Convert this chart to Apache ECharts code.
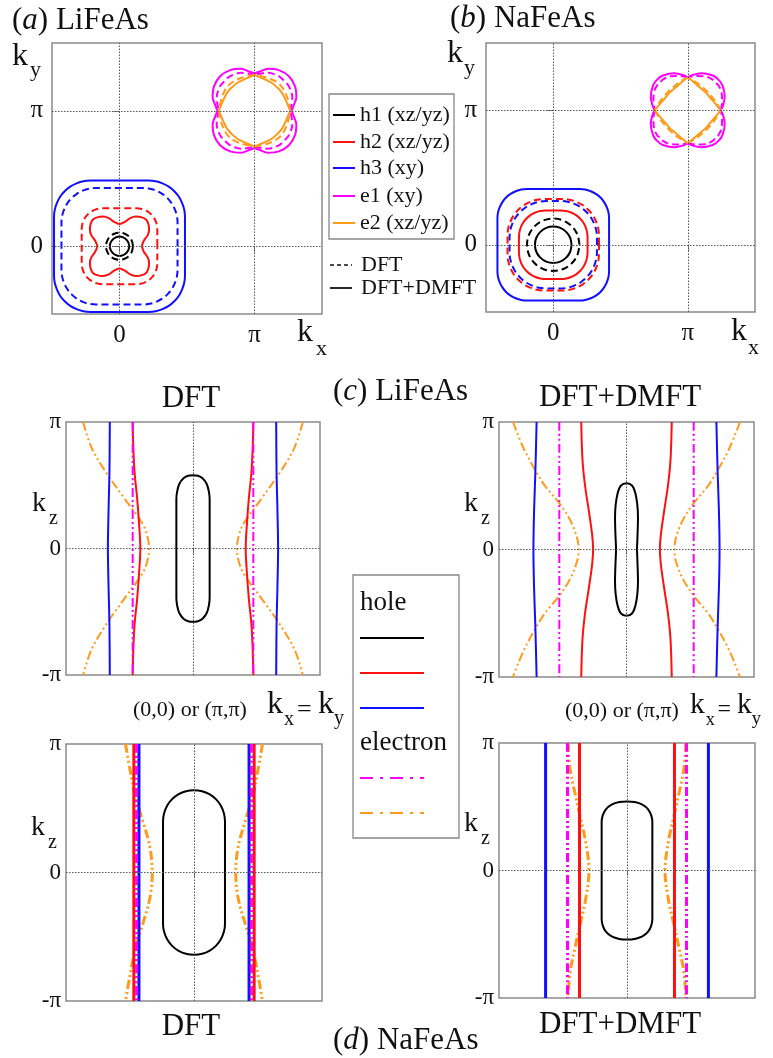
<!DOCTYPE html>
<html><head><meta charset="utf-8">
<script src="https://cdn.jsdelivr.net/npm/echarts@6/dist/echarts.min.js"></script>
<style>html,body{margin:0;padding:0;background:#fff}#c{width:773px;height:1058px}</style>
</head><body><div id="c"></div>
<script>
// ---------------- DATA ----------------
// Pocket centres (units of π)
const centreGamma = [0, 0];
const centreM = [1, 1];
// Panel (a) LiFeAs : first-quadrant contour points [Δkx, Δky] (units of π)
const aH1dft  = [[0.10,0],[0.092,0.038],[0.071,0.071],[0.038,0.092],[0,0.10]];
const aH1dmft = [[0.072,0],[0.066,0.027],[0.05,0.05],[0.027,0.066],[0,0.072]];
const aH2dft  = [[0.28,0],[0.28,0.07],[0.28,0.126],[0.277,0.156],[0.268,0.185],[0.254,0.212],[0.235,0.235],[0.212,0.254],[0.185,0.268],[0.156,0.277],[0.126,0.28],[0.07,0.28],[0,0.28]];
const aH2dmft = [[0.165,0],[0.18,0.04],[0.208,0.08],[0.219,0.12],[0.215,0.16],[0.197,0.197],[0.16,0.215],[0.12,0.219],[0.08,0.208],[0.04,0.18],[0,0.165]];
const aH3dft  = [[0.43,0],[0.43,0.09],[0.43,0.174],[0.425,0.224],[0.41,0.272],[0.387,0.316],[0.355,0.355],[0.316,0.387],[0.272,0.41],[0.224,0.425],[0.174,0.43],[0.09,0.43],[0,0.43]];
const aH3dmft = [[0.485,0],[0.485,0.11],[0.485,0.215],[0.48,0.268],[0.464,0.318],[0.44,0.365],[0.406,0.406],[0.365,0.44],[0.318,0.464],[0.268,0.48],[0.215,0.485],[0.11,0.485],[0,0.485]];
const aE1dft  = [[0.265,0],[0.275,0.05],[0.28,0.10],[0.255,0.18],[0.22,0.22],[0.18,0.255],[0.10,0.28],[0.05,0.275],[0,0.265]];
const aE1dmft = [[0.275,0],[0.29,0.04],[0.31,0.10],[0.30,0.18],[0.255,0.255],[0.18,0.30],[0.10,0.31],[0.04,0.29],[0,0.275]];
const aE2dft  = [[0.265,0],[0.245,0.09],[0.22,0.15],[0.19,0.19],[0.15,0.22],[0.09,0.245],[0,0.265]];
const aE2dmft = [[0.265,0],[0.23,0.08],[0.205,0.13],[0.17,0.17],[0.13,0.205],[0.08,0.23],[0,0.265]];
// Panel (b) NaFeAs
const bH1dft  = [[0.195,0],[0.18,0.075],[0.138,0.138],[0.075,0.18],[0,0.195]];
const bH1dmft = [[0.136,0],[0.126,0.052],[0.096,0.096],[0.052,0.126],[0,0.136]];
const bH2dft  = [[0.34,0],[0.34,0.067],[0.335,0.12],[0.319,0.171],[0.294,0.219],[0.26,0.26],[0.219,0.294],[0.171,0.319],[0.12,0.335],[0.067,0.34],[0,0.34]];
const bH2dmft = [[0.255,0],[0.255,0.057],[0.251,0.096],[0.24,0.133],[0.222,0.167],[0.197,0.197],[0.167,0.222],[0.133,0.24],[0.096,0.251],[0.057,0.255],[0,0.255]];
const bH3dft  = [[0.325,0],[0.325,0.052],[0.32,0.105],[0.304,0.157],[0.279,0.204],[0.245,0.245],[0.204,0.279],[0.157,0.304],[0.105,0.32],[0.052,0.325],[0,0.325]];
const bH3dmft = [[0.415,0],[0.415,0.1],[0.415,0.195],[0.411,0.238],[0.398,0.279],[0.378,0.317],[0.351,0.351],[0.317,0.378],[0.279,0.398],[0.238,0.411],[0.195,0.415],[0.1,0.415],[0,0.415]];
const bE1dft  = [[0.245,0],[0.255,0.06],[0.252,0.13],[0.225,0.19],[0.205,0.205],[0.19,0.225],[0.13,0.252],[0.06,0.255],[0,0.245]];
const bE1dmft = [[0.245,0],[0.262,0.035],[0.275,0.10],[0.258,0.185],[0.228,0.228],[0.185,0.258],[0.10,0.275],[0.035,0.262],[0,0.245]];
const bE2dft  = [[0.245,0],[0.21,0.06],[0.175,0.105],[0.142,0.142],[0.105,0.175],[0.06,0.21],[0,0.245]];
const bE2dmft = [[0.245,0],[0.205,0.05],[0.165,0.095],[0.133,0.133],[0.095,0.165],[0.05,0.205],[0,0.245]];
// Panels (c),(d): right-hand upper half [x along kx=ky (half-width = 1), kz/π] from kz=π down to 0
const cDftH1  = [[0.131,0],[0.131,0.39],[0.125,0.45],[0.108,0.51],[0.075,0.555],[0.038,0.575],[0,0.58]]; // closed, quadrant
const cDftH2  = [[0.475,1],[0.47,0.8],[0.46,0.6],[0.44,0.4],[0.425,0.2],[0.415,0]];
const cDftH3  = [[0.655,1],[0.658,0.6],[0.665,0.3],[0.67,0]];
const cDftE1  = [[0.475,1],[0.475,0.5],[0.475,0]];
const cDftE2  = [[0.865,1],[0.80,0.8],[0.684,0.6],[0.543,0.4],[0.40,0.2],[0.36,0.1],[0.346,0]];
const cDmftH1 = [[0.082,0],[0.086,0.1],[0.09,0.25],[0.085,0.35],[0.07,0.44],[0.045,0.5],[0,0.52]];
const cDmftH2 = [[0.355,1],[0.345,0.7],[0.325,0.5],[0.295,0.3],[0.27,0.12],[0.262,0]];
const cDmftH3 = [[0.705,1],[0.715,0.6],[0.725,0.3],[0.73,0]];
const cDmftE1 = [[0.527,1],[0.527,0.5],[0.527,0]];
const cDmftE2 = [[0.89,1],[0.81,0.8],[0.72,0.63],[0.64,0.5],[0.53,0.367],[0.445,0.236],[0.39,0.1],[0.375,0]];
const dDftH1  = [[0.242,0],[0.242,0.4],[0.234,0.46],[0.21,0.52],[0.171,0.571],[0.12,0.61],[0.063,0.633],[0,0.64]];
const dDftH2  = [[0.47,1],[0.47,0.5],[0.47,0]];
const dDftH3  = [[0.43,1],[0.43,0.5],[0.43,0]];
const dDftE1  = [[0.448,1],[0.448,0.5],[0.448,0]];
const dDftE2  = [[0.535,1],[0.50,0.8],[0.46,0.6],[0.40,0.4],[0.345,0.2],[0.326,0]];
const dDmftH1 = [[0.198,0],[0.198,0.38],[0.19,0.43],[0.165,0.48],[0.12,0.517],[0.06,0.537],[0,0.542]];
const dDmftH2 = [[0.371,1],[0.371,0.5],[0.371,0]];
const dDmftH3 = [[0.636,1],[0.636,0.5],[0.636,0]];
const dDmftE1 = [[0.465,1],[0.465,0.5],[0.465,0]];
const dDmftE2 = [[0.46,1],[0.445,0.8],[0.405,0.6],[0.37,0.44],[0.325,0.235],[0.297,0]];
// Labels
const bandNames = ['h1 (xz/yz)','h2 (xz/yz)','h3 (xy)','e1 (xy)','e2 (xz/yz)'];
const kTicksAB = {0:'0', 1:'π'};
const kzTicks = {'-1':'-π', '0':'0', '1':'π'};

// ---------------- STYLE ----------------
const SERIF = "'Liberation Serif','Times New Roman',serif";
const COL = {h1:'#000000', h2:'#ff1010', h3:'#1010ff', e1:'#ff00ff', e2:'#ff9a1a'};
const DASH = [7,4];
const DDOT = [9,3,2,3,2,3];
const grids = [
  {left:52,  top:43,  width:270, height:271},
  {left:486, top:43,  width:269, height:269},
  {left:66,  top:422, width:254, height:253},
  {left:499, top:422, width:255, height:255},
  {left:66,  top:744, width:256, height:257},
  {left:499, top:743, width:256, height:255}
];

// ---------------- helpers ----------------
function quads(Q){
  const q1 = Q.slice();
  const q2 = Q.slice().reverse().map(p=>[-p[0],p[1]]);
  const q3 = Q.map(p=>[-p[0],-p[1]]);
  const q4 = Q.slice().reverse().map(p=>[p[0],-p[1]]);
  return [q1,q2,q3,q4];
}
function closed(Q){
  const [q1,q2,q3,q4] = quads(Q);
  return q1.concat(q2.slice(1), q3.slice(1), q4.slice(1));
}
function shift(P,c){ return P.map(p=>[p[0]+c[0], p[1]+c[1]]); }
function halfToFull(H){ return H.concat(H.slice(0,-1).reverse().map(p=>[p[0],-p[1]])); }

const series = [];
function line(gi, pts, color, type, width){
  series.push({type:'line', xAxisIndex:gi, yAxisIndex:gi, data:pts, smooth:0.35, smoothMonotone:null, showSymbol:false, symbol:'none',
    silent:true, animation:false, z:3, lineStyle:{color:color, width:width, type:type, cap:'butt', join:'round'}});
}
function pocket(gi, Q, c, color, type, width, cusp){
  if (cusp) quads(Q).forEach(q=>line(gi, shift(q,c), color, type, width));
  else line(gi, shift(closed(Q),c), color, type, width);
}
function vert(gi, H, color, type, width){
  const R = halfToFull(H);
  line(gi, R, color, type, width);
  line(gi, R.map(p=>[-p[0],p[1]]), color, type, width);
}
function gridLines(gi, xs, ys){
  series.push({type:'line', xAxisIndex:gi, yAxisIndex:gi, data:[], silent:true, animation:false, z:1,
    markLine:{silent:true, symbol:['none','none'], animation:false, label:{show:false},
      lineStyle:{type:[1.5,1.5], color:'#555', width:1},
      data: xs.map(v=>({xAxis:v})).concat(ys.map(v=>({yAxis:v})))}});
}

// panel (a)
gridLines(0,[0,1],[0,1]);
[[aH3dft,aH3dmft,'h3'],[aH2dft,aH2dmft,'h2'],[aH1dft,aH1dmft,'h1']].forEach(([d,m,k])=>{
  pocket(0,d,centreGamma,COL[k],DASH,2,false); pocket(0,m,centreGamma,COL[k],'solid',2,false);
});
pocket(0,aE1dft,centreM,COL.e1,DASH,2,true); pocket(0,aE1dmft,centreM,COL.e1,'solid',2,true);
pocket(0,aE2dft,centreM,COL.e2,DASH,2,true); pocket(0,aE2dmft,centreM,COL.e2,'solid',2,true);
// panel (b)
gridLines(1,[0,1],[0,1]);
[[bH3dft,bH3dmft,'h3'],[bH2dft,bH2dmft,'h2'],[bH1dft,bH1dmft,'h1']].forEach(([d,m,k])=>{
  pocket(1,d,centreGamma,COL[k],DASH,2,false); pocket(1,m,centreGamma,COL[k],'solid',2,false);
});
pocket(1,bE1dft,centreM,COL.e1,DASH,2,true); pocket(1,bE1dmft,centreM,COL.e1,'solid',2,true);
pocket(1,bE2dft,centreM,COL.e2,DASH,2,true); pocket(1,bE2dmft,centreM,COL.e2,'solid',2,true);
// panels (c),(d)
function kzPanel(gi, H1, H2, H3, E1, E2, w){
  gridLines(gi,[0],[0]);
  vert(gi,E2,COL.e2,DDOT,w);
  vert(gi,H3,COL.h3,'solid',w);
  vert(gi,H2,COL.h2,'solid',w);
  vert(gi,E1,COL.e1,DDOT,w);
  line(gi, closed(H1), COL.h1, 'solid', 2);
}
kzPanel(2,cDftH1,cDftH2,cDftH3,cDftE1,cDftE2,2);
kzPanel(3,cDmftH1,cDmftH2,cDmftH3,cDmftE1,cDmftE2,2);
kzPanel(4,dDftH1,dDftH2,dDftH3,dDftE1,dDftE2,3);
kzPanel(5,dDmftH1,dDmftH2,dDmftH3,dDmftE1,dDmftE2,3);

// ---------------- axes ----------------
const xAxes = [], yAxes = [];
for (let gi=0; gi<6; gi++){
  if (gi<2){
    const mk = (isX)=>({type:'value', gridIndex:gi, min:-0.5, max:1.5, interval:0.5,
      axisLine:{show:false}, splitLine:{show:false},
      axisTick:{show:true, customValues:[0,1], length:6, lineStyle:{color:'#777', width:1}},
      axisLabel:{show:true, customValues:[0,1], formatter:v=>kTicksAB[Math.round(v)]||'',
        fontFamily:SERIF, fontSize:25, color:'#111', margin:isX?9:9}});
    xAxes.push(mk(true)); yAxes.push(mk(false));
  } else {
    xAxes.push({type:'value', gridIndex:gi, min:-1, max:1, interval:1,
      axisLine:{show:false}, splitLine:{show:false},
      axisTick:{show:true, customValues:[0], length:5, lineStyle:{color:'#777'}},
      axisLabel:{show:false}});
    yAxes.push({type:'value', gridIndex:gi, min:-1, max:1, interval:1,
      axisLine:{show:false}, splitLine:{show:false},
      axisTick:{show:false},
      axisLabel:{show:true, formatter:v=>kzTicks[String(Math.round(v))]||'',
        fontFamily:SERIF, fontSize:23, color:'#111', margin:5}});
  }
}

// ---------------- graphic text / legends ----------------
const G = [];
function txt(s, x, y, size, align, extra){
  const st = Object.assign({text:s, fontSize:size, fontFamily:SERIF, fill:'#111',
    textAlign:align||'left', textVerticalAlign:'middle', align:align||'left', verticalAlign:'middle'}, extra||{});
  G.push({type:'text', x:x, y:y, silent:true, style:st});
}
function ital(label, rest, x, y, size){
  txt('({i|'+label+'}) '+rest, x, y, size, 'left',
    {rich:{i:{fontStyle:'italic', fontSize:size, fontFamily:SERIF, fill:'#111', color:'#111'}}});
}
function seg(x1,y1,x2,y2,color,w,dash){
  G.push({type:'line', silent:true, shape:{x1:x1,y1:y1,x2:x2,y2:y2},
    style:{stroke:color, lineWidth:w, lineDash:dash||null}});
}
function box(x,y,w,h){
  G.push({type:'rect', silent:true, shape:{x:x,y:y,width:w,height:h},
    style:{fill:'rgba(0,0,0,0)', stroke:'#888', lineWidth:1.3}});
}
function kLab(x, y, sub, subx, suby, size, subSize){
  txt('k', x, y, size, 'left'); txt(sub, subx, suby, subSize, 'left');
}
// titles
ital('a','LiFeAs',12,21,31);
ital('b','NaFeAs',450,19,31);
txt('DFT',191,399,31,'center');
ital('c','LiFeAs',333,392,31);
txt('DFT+DMFT',620,398,31,'center');
txt('DFT',191,1027,31,'center');
ital('d','NaFeAs',333,1041,31);
txt('DFT+DMFT',620,1025,31,'center');
// axis names
kLab(12,57,'y',30,70,32,22);
kLab(297,333,'x',316,349,32,22);
kLab(447,54,'y',464,68,32,22);
kLab(731,332,'x',748,348,32,22);
kLab(32,504,'z',49,519,28,20);
kLab(464,504,'z',481,519,28,20);
kLab(31,828,'z',48,843,28,20);
kLab(464,824,'z',481,839,28,20);
// (0,0) or (π,π)  kx = ky
[[133,267],[565,690]].forEach(([a,b],i)=>{
  txt('(0,0) or (π,π)', a, 710+i, 22, 'left');
  const sc = (b===267)?1:0.92;
  kLab(b, 705, 'x', b+17*sc, 720, 32*sc, 20*sc);
  txt('=', b+30*sc, 710, 26*sc, 'left');
  kLab(b+51*sc, 705, 'y', b+67*sc, 719, 32*sc, 20*sc);
});
// legend (a)/(b)
box(329,94,125,145);
const legY = [115,142,168,196,223];
['h1','h2','h3','e1','e2'].forEach((k,i)=>{
  seg(333,legY[i],355,legY[i],COL[k],2);
  txt(bandNames[i],360,legY[i],22,'left');
});
seg(330,265,352,265,'#111',1.5,[4,3]); txt('DFT',361,265,22,'left');
seg(330,288,352,288,'#111',1.8);       txt('DFT+DMFT',361,288,22,'left');
// legend (c)/(d)
box(353,575,106,263);
txt('hole',360,603,27,'left');
seg(360,638,424,638,COL.h1,2);
seg(360,673,424,673,COL.h2,2);
seg(360,708,424,708,COL.h3,2);
txt('electron',360,743,27,'left');
seg(360,778,424,778,COL.e1,2,[13,7,3,7]);
seg(360,813,424,813,COL.e2,2,[13,7,3,7]);

const chart = echarts.init(document.getElementById('c'), null, {renderer:'canvas'});
chart.setOption({
  animation:false,
  backgroundColor:'#ffffff',
  grid: grids.map(g=>Object.assign({show:true, borderColor:'#8a8a8a', borderWidth:1.5,
    backgroundColor:'rgba(0,0,0,0)', containLabel:false, outerBoundsMode:'none'}, g)),
  xAxis:xAxes, yAxis:yAxes, series:series,
  graphic:{elements:G}
});
</script></body></html>
